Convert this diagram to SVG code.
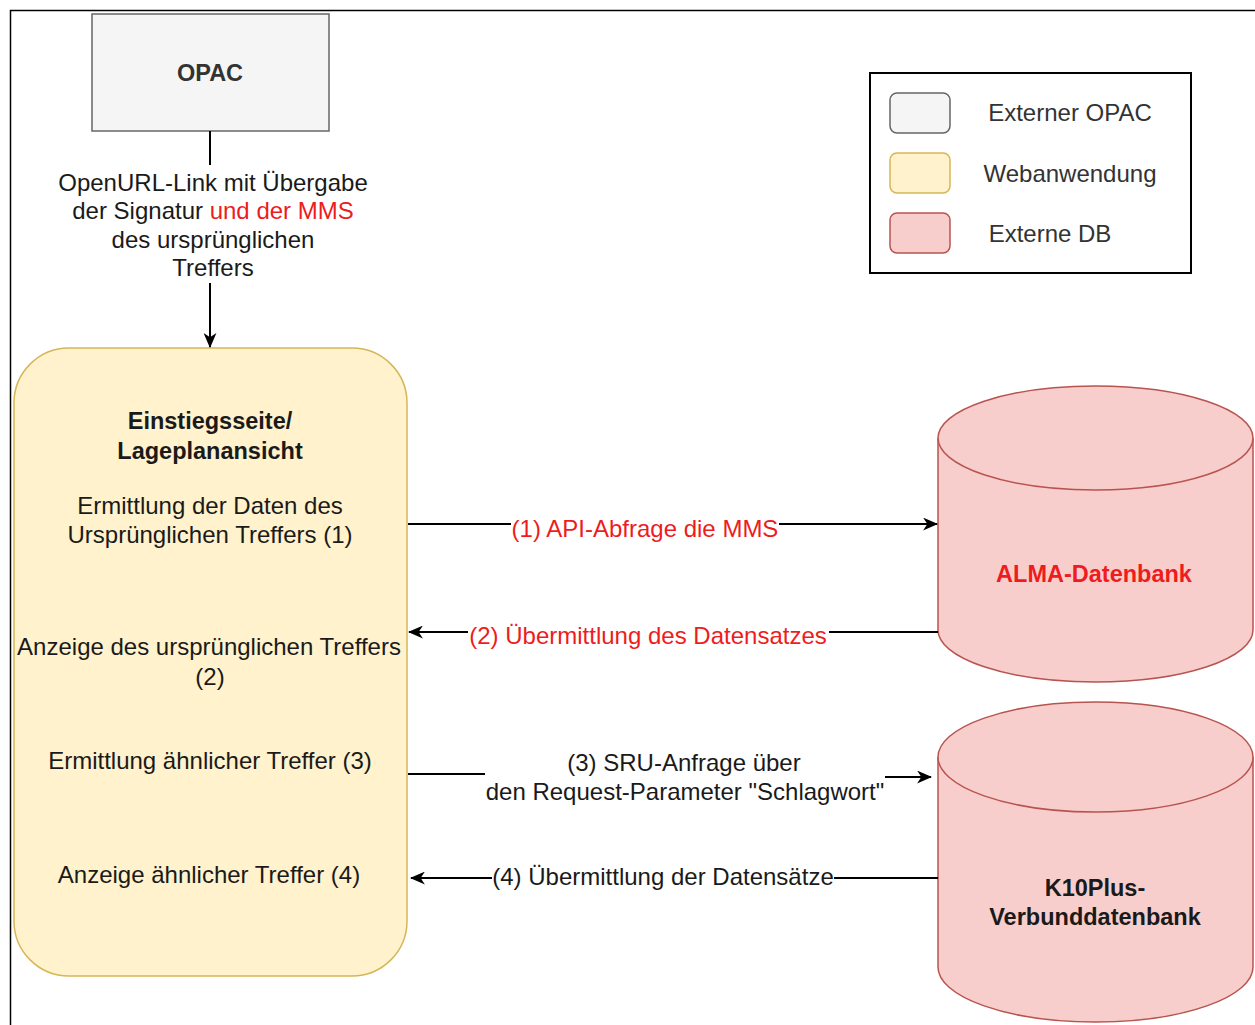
<svg xmlns="http://www.w3.org/2000/svg" width="1255" height="1025" viewBox="0 0 1255 1025">
<style>
text{font-family:"Liberation Sans",Arial,sans-serif;font-size:24px;fill:#1a1a1a;text-anchor:middle}
.b{font-weight:bold;font-size:23.5px}
.red{fill:#ee1c1c}
.gray{fill:#f5f5f5;stroke:#666;stroke-width:1.5}
.yel{fill:#fff2cc;stroke:#d6b656;stroke-width:1.5}
.pink{fill:#f8cecc;stroke:#b85450;stroke-width:1.5}
.ln{stroke:#000;stroke-width:2;fill:none}
.bg{fill:#fff}
</style>
<defs>
<marker id="arr" viewBox="0 0 14 12" refX="13" refY="6" markerWidth="15" markerHeight="13" markerUnits="userSpaceOnUse" orient="auto">
<path d="M0,0 L14,6 L0,12 L4,6 Z" fill="#000"/>
</marker>
</defs>
<rect x="0" y="0" width="1255" height="1025" fill="#fff"/>
<path d="M10.5,1025 V10.5 H1255" stroke="#000" stroke-width="1.5" fill="none"/>

<g id="opac">
<rect class="gray" x="92" y="14" width="237" height="117"/>
<text class="b" x="210" y="81" style="fill:#333">OPAC</text>
</g>

<g id="webapp">
<rect class="yel" x="14" y="348" width="393" height="628" rx="55" ry="55"/>
<text class="b" x="210" y="429">Einstiegsseite/</text>
<text class="b" x="210" y="459">Lageplanansicht</text>
<text x="210" y="514">Ermittlung der Daten des</text>
<text x="210" y="543">Ursprünglichen Treffers (1)</text>
<text x="209" y="655">Anzeige des ursprünglichen Treffers</text>
<text x="210" y="685">(2)</text>
<text x="210" y="769">Ermittlung ähnlicher Treffer (3)</text>
<text x="209" y="883">Anzeige ähnlicher Treffer (4)</text>
</g>

<g id="alma">
<path class="pink" d="M938,438 V630 A157.5,52 0 0 0 1253,630 V438 A157.5,52 0 0 0 938,438 Z"/>
<path class="pink" d="M938,438 A157.5,52 0 0 0 1253,438"/>
<text class="b red" x="1094" y="582">ALMA-Datenbank</text>
</g>

<g id="k10plus">
<path class="pink" d="M938,757 V967 A157.5,55 0 0 0 1253,967 V757 A157.5,55 0 0 0 938,757 Z"/>
<path class="pink" d="M938,757 A157.5,55 0 0 0 1253,757"/>
<text class="b" x="1095" y="896">K10Plus-</text>
<text class="b" x="1095" y="925">Verbunddatenbank</text>
</g>

<g id="legend">
<rect x="870" y="73" width="321" height="200" fill="#fff" stroke="#000" stroke-width="2"/>
<rect class="gray" x="890" y="93" width="60" height="40" rx="7"/>
<rect class="yel" x="890" y="153" width="60" height="40" rx="7"/>
<rect class="pink" x="890" y="213" width="60" height="40" rx="7"/>
<text x="1070" y="121" style="fill:#333">Externer OPAC</text>
<text x="1070" y="182" style="fill:#333">Webanwendung</text>
<text x="1050" y="242" style="fill:#333">Externe DB</text>
</g>

<g id="connectors">
<path class="ln" d="M210,131 V347" marker-end="url(#arr)"/>
<rect class="bg" x="50" y="165" width="328" height="118"/>
<text x="213" y="191">OpenURL-Link mit Übergabe</text>
<text x="213" y="219">der Signatur <tspan class="red">und der MMS</tspan></text>
<text x="213" y="248">des ursprünglichen</text>
<text x="213" y="276">Treffers</text>

<path class="ln" d="M408,524 H937" marker-end="url(#arr)"/>
<rect class="bg" x="511" y="514" width="268" height="28"/>
<text class="red" x="645" y="537">(1) API-Abfrage die MMS</text>

<path class="ln" d="M938,632 H409" marker-end="url(#arr)"/>
<rect class="bg" x="468" y="622" width="361" height="28"/>
<text class="red" x="648" y="644">(2) Übermittlung des Datensatzes</text>

<path class="ln" d="M408,774 H680 V777 H931" marker-end="url(#arr)"/>
<rect class="bg" x="485" y="748" width="400" height="58"/>
<text x="684" y="771">(3) SRU-Anfrage über</text>
<text x="685" y="800">den Request-Parameter "Schlagwort"</text>

<path class="ln" d="M938,878 H411" marker-end="url(#arr)"/>
<rect class="bg" x="492" y="864" width="342" height="28"/>
<text x="663" y="885">(4) Übermittlung der Datensätze</text>
</g>
</svg>
